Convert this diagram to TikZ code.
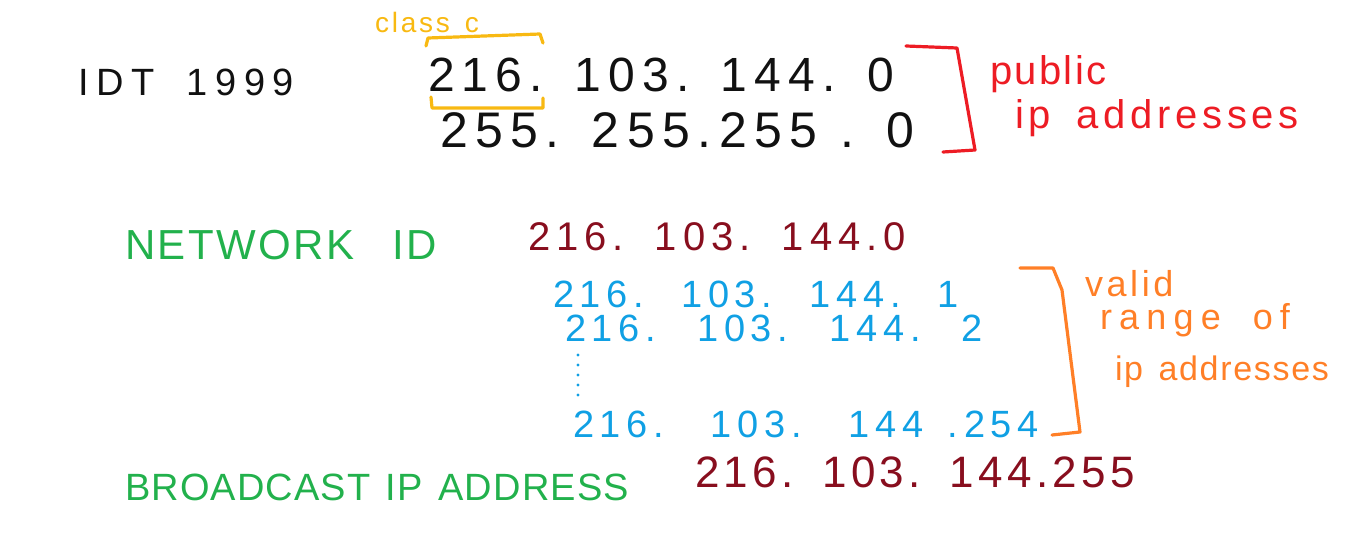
\documentclass[tikz,border=0pt]{standalone}
\usepackage{fontspec}
\setmainfont{Liberation Sans}
\definecolor{cblack}{HTML}{111111}
\definecolor{cred}{HTML}{ED1C24}
\definecolor{cgold}{HTML}{F8B912}
\definecolor{cgreen}{HTML}{22B14C}
\definecolor{cdark}{HTML}{880E1E}
\definecolor{cblue}{HTML}{10A0E4}
\definecolor{corange}{HTML}{FF7F27}
\newcommand{\spreadto}[2]{\makebox[#1][s]{#2}}
\newcommand{\fsz}[2]{\fontsize{#1}{#1}\selectfont\addfontfeature{LetterSpace=#2}}
\begin{document}
\begin{tikzpicture}[x=0.5pt,y=-0.5pt,
  txt/.style={anchor=west, inner sep=0pt, outer sep=0pt},
  brk/.style={line width=1.6pt, line cap=round, line join=round}]
\useasboundingbox (0,0) rectangle (1345,556);
% top block
\node[txt, text=cblack, font=\fsz{19}{20}] (idt) at (78,82) {\spreadto{108pt}{IDT 1999}};
\node[txt, text=cgold, font=\fsz{14}{10}] (classc) at (375,22) {\spreadto{52pt}{class c}};
\node[txt, text=cblack, font=\fsz{24}{15}] (ip1) at (428,75) {\spreadto{233pt}{216. 103. 144. 0}};
\node[txt, text=cblack, font=\fsz{25}{15}] (mask) at (440,130) {\spreadto{237pt}{255. 255.255 . 0}};
\draw[brk, cgold] (426,46) -- (428,38) -- (540,34) -- (543,43);
\draw[brk, cgold] (431,97) -- (432,108) -- (543,108) -- (543,98);
\draw[brk, cred] (906,46) -- (957,48) -- (975,150) -- (943,152);
\node[txt, text=cred, font=\fsz{20}{6}] (pub) at (990,74) {\spreadto{72pt}{public}};
\node[txt, text=cred, font=\fsz{20}{12}] (pubip) at (1015,118) {\spreadto{142pt}{ip addresses}};
% network id
\node[txt, text=cgreen, font=\fsz{21}{6}] (netid) at (125,245) {\spreadto{156pt}{NETWORK ID}};
\node[txt, text=cdark, font=\fsz{20}{15}] (netip) at (528,237) {\spreadto{189pt}{216. 103. 144.0}};
% valid range
\node[txt, text=cblue, font=\fsz{19}{15}] (r1) at (553,294) {\spreadto{203pt}{216. 103. 144. 1}};
\node[txt, text=cblue, font=\fsz{19}{15}] (r2) at (565,328) {\spreadto{209pt}{216. 103. 144. 2}};
\coordinate (dtop) at (578,355);
\coordinate (dbot) at (578,400);
\draw[cblue, line width=1.6pt, line cap=round, dash pattern=on 0pt off 5pt] (dtop) -- (dbot);
\node[txt, text=cblue, font=\fsz{19}{15}] (r3) at (573,424) {\spreadto{233pt}{216. 103. 144 .254}};
\draw[brk, corange] (1020,268) -- (1053,268) -- (1062,290) -- (1080,432) -- (1052,435);
\node[txt, text=corange, font=\fsz{18}{10}] (v1) at (1085,284) {\spreadto{60pt}{valid}};
\node[txt, text=corange, font=\fsz{18}{20}] (v2) at (1100,320) {\spreadto{95pt}{range of}};
\node[txt, text=corange, font=\fsz{17}{5}] (v3) at (1115,372) {\spreadto{107pt}{ip addresses}};
% broadcast
\node[txt, text=cgreen, font=\fsz{19}{3}] (bcast) at (125,487) {\spreadto{252pt}{BROADCAST IP ADDRESS}};
\node[txt, text=cdark, font=\fsz{22}{10}] (bip) at (695,472) {\spreadto{220pt}{216. 103. 144.255}};
\end{tikzpicture}
\end{document}
